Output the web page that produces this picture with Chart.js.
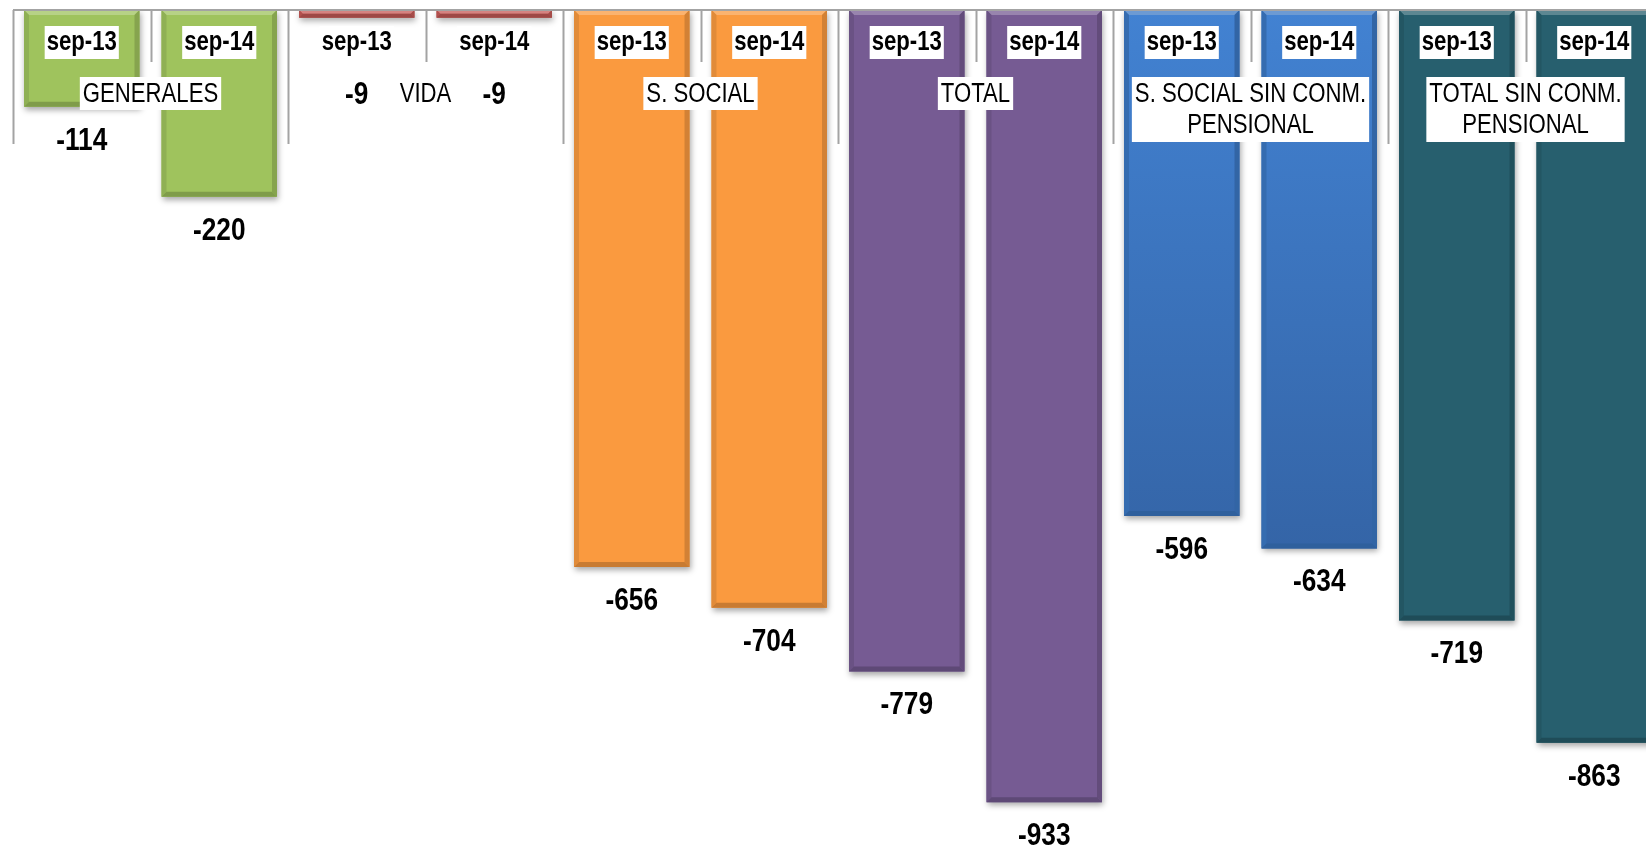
<!DOCTYPE html>
<html>
<head>
<meta charset="utf-8">
<script src="https://cdn.jsdelivr.net/npm/chart.js@4"></script>
<style>
  html, body { margin: 0; padding: 0; background: #ffffff; overflow: hidden; }
  #wrap { width: 1663px; height: 849px; position: relative; }
</style>
</head>
<body>
<div id="wrap"><canvas id="chartDeficit"></canvas></div>
<script>
// categories, one per bar
const periods = ['sep-13', 'sep-14', 'sep-13', 'sep-14', 'sep-13', 'sep-14',
                 'sep-13', 'sep-14', 'sep-13', 'sep-14', 'sep-13', 'sep-14'];
// group names (two bars each)
const groups = [
  ['GENERALES'],
  ['VIDA'],
  ['S. SOCIAL'],
  ['TOTAL'],
  ['S. SOCIAL SIN CONM.', 'PENSIONAL'],
  ['TOTAL SIN CONM.', 'PENSIONAL']
];
const values = [-114, -220, -9, -9, -656, -704, -779, -933, -596, -634, -719, -863];
const groupColors = ['#9fc35d', '#c65a57', '#fa9a3f', '#765b93', '#3b78c4', '#275f6e'];

// no Arial Narrow here, so squeeze Liberation Sans sideways
const FONT = "'Liberation Sans', Arial, sans-serif";
const SQUEEZE = 0.82;

function shade(hex, amt) {
  let n = parseInt(hex.slice(1), 16);
  let r = (n >> 16) & 255, g = (n >> 8) & 255, b = n & 255;
  const f = (c) => Math.max(0, Math.min(255, Math.round(amt > 0 ? c + (255 - c) * amt : c * (1 + amt))));
  return 'rgb(' + f(r) + ',' + f(g) + ',' + f(b) + ')';
}

function narrowText(ctx, t, x, y) {
  ctx.save();
  ctx.translate(x, y);
  ctx.scale(SQUEEZE, 1);
  ctx.fillText(t, 0, 0);
  ctx.restore();
}

// drop shadow under the bars
const shadowPlugin = {
  id: 'shadow',
  beforeDatasetsDraw(chart) {
    const ctx = chart.ctx;
    ctx.save();
    ctx.shadowColor = 'rgba(0,0,0,0.35)';
    ctx.shadowBlur = 6;
    ctx.shadowOffsetX = 1;
    ctx.shadowOffsetY = 3;
  },
  afterDatasetsDraw(chart) {
    chart.ctx.restore();
  }
};

// bevel edges, separators, and all the texts
const decorPlugin = {
  id: 'decor',
  afterDatasetsDraw(chart) {
    const ctx = chart.ctx;
    const area = chart.chartArea;
    const xs = chart.scales.x;
    const meta = chart.getDatasetMeta(0);
    const step = (area.right - area.left) / periods.length;

    // bevel on each bar
    meta.data.forEach((bar, i) => {
      const col = groupColors[Math.floor(i / 2)];
      const L = bar.x - bar.width / 2, R = bar.x + bar.width / 2;
      const T = Math.min(bar.base, bar.y), B = Math.max(bar.base, bar.y);
      const b = Math.min(5, (B - T) / 2);
      const quad = (pts, c) => {
        ctx.beginPath();
        ctx.moveTo(pts[0][0], pts[0][1]);
        for (let k = 1; k < pts.length; k++) ctx.lineTo(pts[k][0], pts[k][1]);
        ctx.closePath();
        ctx.fillStyle = c;
        ctx.fill();
      };
      quad([[L, T], [R, T], [R - b, T + b], [L + b, T + b]], shade(col, 0.25));
      quad([[L, T], [L + b, T + b], [L + b, B - b], [L, B]], shade(col, -0.1));
      quad([[R, T], [R - b, T + b], [R - b, B - b], [R, B]], shade(col, -0.16));
      quad([[L, B], [L + b, B - b], [R - b, B - b], [R, B]], shade(col, -0.2));
    });

    // top rule and separators
    ctx.save();
    ctx.strokeStyle = '#a3a3a3';
    ctx.lineWidth = 2;
    ctx.beginPath();
    ctx.moveTo(area.left, area.top);
    ctx.lineTo(area.right, area.top);
    for (let k = 0; k <= periods.length; k++) {
      const x = Math.round(area.left + k * step) + 0.5;
      ctx.moveTo(x, area.top);
      ctx.lineTo(x, k % 2 === 0 ? 144 : 62);
    }
    ctx.stroke();
    ctx.restore();

    ctx.save();
    ctx.textAlign = 'center';
    ctx.textBaseline = 'middle';

    // period labels in white boxes
    ctx.font = 'bold 27px ' + FONT;
    periods.forEach((p, i) => {
      const x = xs.getPixelForValue(i);
      const w = ctx.measureText(p).width * SQUEEZE + 4;
      ctx.fillStyle = '#ffffff';
      ctx.fillRect(x - w / 2, 26, w, 33);
      ctx.fillStyle = '#000000';
      narrowText(ctx, p, x, 43);
    });

    // group labels
    ctx.font = '27px ' + FONT;
    groups.forEach((lines, g) => {
      const x = (xs.getPixelForValue(2 * g) + xs.getPixelForValue(2 * g + 1)) / 2;
      const w = Math.max(...lines.map(t => ctx.measureText(t).width)) * SQUEEZE + 6;
      ctx.fillStyle = '#ffffff';
      ctx.fillRect(x - w / 2, 77, w, 33 + (lines.length - 1) * 32);
      ctx.fillStyle = '#000000';
      lines.forEach((t, j) => narrowText(ctx, t, x, 95 + j * 31));
    });

    // value labels under each bar
    ctx.font = 'bold 32px ' + FONT;
    meta.data.forEach((bar, i) => {
      const y = Math.max(bar.y + 34, 95);
      ctx.fillStyle = '#000000';
      narrowText(ctx, String(values[i]), bar.x, y);
    });
    ctx.restore();
  }
};

const data = {
  labels: periods,
  datasets: [{
    label: 'Resultado',
    data: values,
    backgroundColor: (c) => {
      const col = groupColors[Math.floor(c.dataIndex / 2)];
      const area = c.chart.chartArea;
      if (!area || Math.floor(c.dataIndex / 2) !== 4) return col;
      const grad = c.chart.ctx.createLinearGradient(0, area.top, 0, 560);
      grad.addColorStop(0, '#4282d2');
      grad.addColorStop(1, '#3464a6');
      return grad;
    },
    borderWidth: 0,
    barPercentage: 0.84,
    categoryPercentage: 1.0
  }]
};

const config = {
  type: 'bar',
  data: data,
  options: {
    responsive: true,
    maintainAspectRatio: false,
    animation: false,
    layout: { padding: { left: 13, top: 10, right: 0, bottom: 0 } },
    plugins: {
      legend: { display: false },
      title: { display: false },
      tooltip: { enabled: false }
    },
    scales: {
      x: { display: false },
      y: { display: false, min: -988, max: 0 }
    }
  },
  plugins: [shadowPlugin, decorPlugin]
};

new Chart(
  document.getElementById('chartDeficit'),
  config,
);
</script>
</body>
</html>
